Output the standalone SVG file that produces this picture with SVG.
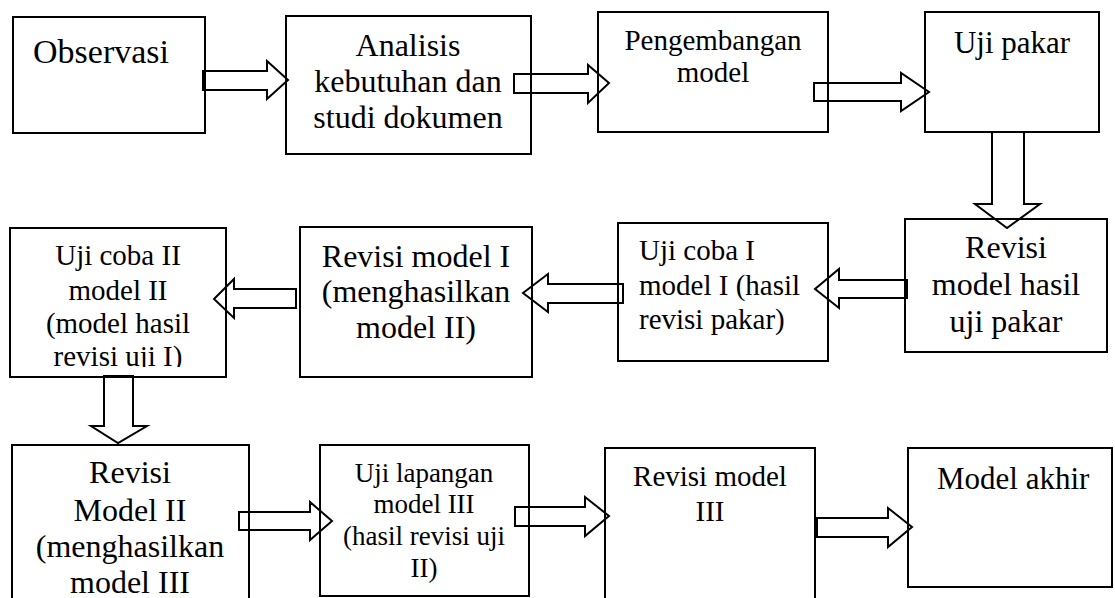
<svg xmlns="http://www.w3.org/2000/svg" width="1115" height="598" viewBox="0 0 1115 598">
<style>
.box{fill:none;stroke:#000;stroke-width:2}
.arr{fill:#fff;stroke:#000;stroke-width:2;stroke-linejoin:miter}
.c{text-anchor:middle}
</style>
<defs>
<clipPath id="clipU2"><rect x="10" y="228" width="216" height="139"/></clipPath>
</defs>
<rect width="1115" height="598" fill="#fff"/>
<g id="connectors">
<polygon class="arr" points="203,71 267,71 267,61 288,80 267,99 267,90 203,90"/>
<polygon class="arr" points="514,74 588,74 588,65 609,83 588,103 588,93 514,93"/>
<polygon class="arr" points="814,83 901,83 901,73 929,92 901,111 901,101 814,101"/>
<polygon class="arr" points="992,132 1024,132 1024,204 1040,204 1007,228 975,204 992,204"/>
<polygon class="arr" points="907,280 839,280 839,269 815,289 839,308 839,298 907,298"/>
<polygon class="arr" points="623,284 548,284 548,274 523,293 548,312 548,303 623,303"/>
<polygon class="arr" points="296,289 234,289 234,279 214,299 234,318 234,308 296,308"/>
<polygon class="arr" points="104,376 133,376 133,426 147,426 118,443 91,426 104,426"/>
<polygon class="arr" points="239,512 310,512 310,502 332,521 310,540 310,530 239,530"/>
<polygon class="arr" points="515,507 585,507 585,497 609,516 585,536 585,526 515,526"/>
<polygon class="arr" points="817,518 888,518 888,508 912,527 888,547 888,537 817,537"/>
</g>
<g font-family="'Times New Roman', 'Liberation Serif', 'DejaVu Serif', serif" fill="#000">
<g id="observasi">
<rect class="box" x="13" y="17" width="192" height="116"/>
<text x="33" y="63" font-size="34">Observasi</text>
</g>
<g id="analisis">
<rect class="box" x="286" y="16" width="245" height="138"/>
<text class="c" x="408" y="56" font-size="32">Analisis</text>
<text class="c" x="408" y="92" font-size="32">kebutuhan dan</text>
<text class="c" x="408" y="128" font-size="32">studi dokumen</text>
</g>
<g id="pengembangan">
<rect class="box" x="598" y="12" width="230" height="120"/>
<text class="c" x="713" y="50" font-size="29">Pengembangan</text>
<text class="c" x="713" y="82" font-size="29">model</text>
</g>
<g id="uji-pakar">
<rect class="box" x="925" y="12" width="174" height="120"/>
<text class="c" x="1012" y="53" font-size="31">Uji pakar</text>
</g>
<g id="revisi-pakar">
<rect class="box" x="905" y="219" width="202" height="133"/>
<text class="c" x="1006" y="258" font-size="32">Revisi</text>
<text class="c" x="1006" y="295" font-size="32">model hasil</text>
<text class="c" x="1006" y="332" font-size="32">uji pakar</text>
</g>
<g id="uji-coba-1">
<rect class="box" x="618" y="223" width="210" height="138"/>
<text x="639" y="260" font-size="29">Uji coba I</text>
<text x="639" y="295" font-size="29">model I (hasil</text>
<text x="639" y="329" font-size="29">revisi pakar)</text>
</g>
<g id="revisi-model-1">
<rect class="box" x="300" y="227" width="232" height="150"/>
<text class="c" x="416" y="267" font-size="32">Revisi model I</text>
<text class="c" x="416" y="302" font-size="32">(menghasilkan</text>
<text class="c" x="416" y="338" font-size="32">model II)</text>
</g>
<g id="uji-coba-2">
<rect class="box" x="10" y="228" width="216" height="149"/>
<text class="c" x="118" y="265" font-size="29">Uji coba II</text>
<text class="c" x="118" y="300" font-size="29">model II</text>
<text class="c" x="118" y="333" font-size="29">(model hasil</text>
<text class="c" x="118" y="366" font-size="29" clip-path="url(#clipU2)">revisi uji I)</text>
</g>
<g id="revisi-model-2">
<rect class="box" x="12" y="445" width="237" height="160"/>
<text class="c" x="130" y="483" font-size="32">Revisi</text>
<text class="c" x="130" y="521" font-size="32">Model II</text>
<text class="c" x="130" y="557" font-size="32">(menghasilkan</text>
<text class="c" x="130" y="593" font-size="32">model III</text>
</g>
<g id="uji-lapangan">
<rect class="box" x="320" y="445" width="209" height="151"/>
<text class="c" x="424" y="482" font-size="27">Uji lapangan</text>
<text class="c" x="424" y="513" font-size="27">model III</text>
<text class="c" x="424" y="545" font-size="27">(hasil revisi uji</text>
<text class="c" x="424" y="577" font-size="27">II)</text>
</g>
<g id="revisi-model-3">
<rect class="box" x="605" y="448" width="210" height="160"/>
<text class="c" x="710" y="486" font-size="29">Revisi model</text>
<text class="c" x="710" y="521" font-size="29">III</text>
</g>
<g id="model-akhir">
<rect class="box" x="908" y="448" width="204" height="139"/>
<text x="937" y="489" font-size="31">Model akhir</text>
</g>
</g>
</svg>
